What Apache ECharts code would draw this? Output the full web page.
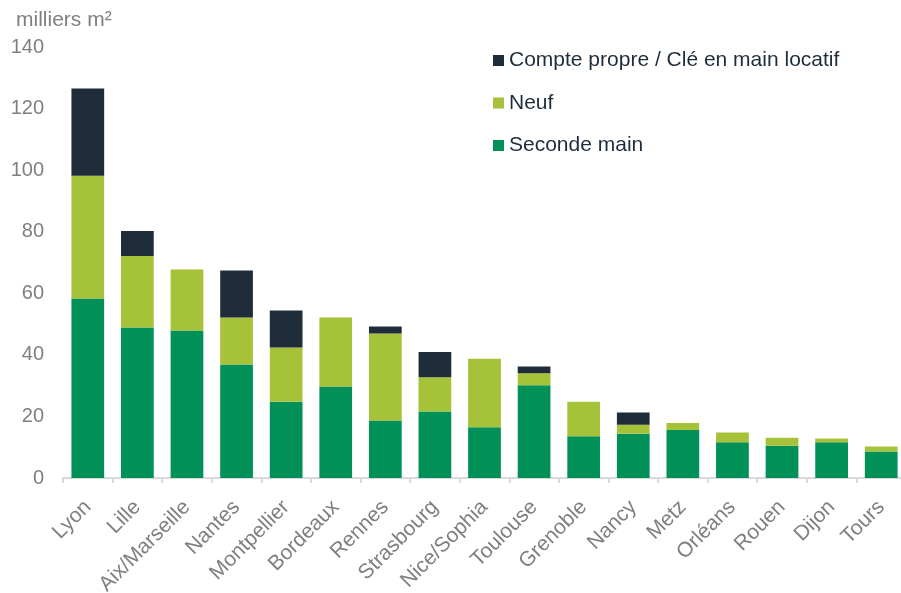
<!DOCTYPE html>
<html>
<head>
<meta charset="utf-8">
<script src="https://cdn.jsdelivr.net/npm/echarts@6/dist/echarts.min.js"></script>
<style>
  html, body { margin: 0; padding: 0; background: #fff; }
  #chart { width: 901px; height: 593px; }
</style>
</head>
<body>
<div id="chart"></div>
<script>
// villes (axe X)
const villes = ['Lyon', 'Lille', 'Aix/Marseille', 'Nantes', 'Montpellier', 'Bordeaux', 'Rennes',
  'Strasbourg', 'Nice/Sophia', 'Toulouse', 'Grenoble', 'Nancy', 'Metz', 'Orléans', 'Rouen', 'Dijon', 'Tours'];
// milliers m²
const secondeMain = [58.3, 48.9, 47.9, 36.9, 24.8, 29.7, 18.7, 21.6, 16.5, 30.1, 13.6, 14.4, 15.6, 11.6, 10.5, 11.6, 8.6];
const neuf = [39.9, 23.2, 19.8, 15.2, 17.6, 22.4, 28.2, 11.1, 22.2, 3.9, 11.2, 2.9, 2.3, 3.2, 2.6, 1.2, 1.6];
const comptePropre = [28.3, 8.1, 0, 15.3, 12.0, 0, 2.3, 8.2, 0, 2.2, 0, 4.0, 0, 0, 0, 0, 0];
const yTicks = [0, 20, 40, 60, 80, 100, 120, 140];

const chart = echarts.init(document.getElementById('chart'));

const font = 'Arial, "Liberation Sans", sans-serif';

function serie(name, data, color) {
  return {
    name: name,
    type: 'bar',
    stack: 'total',
    barWidth: '66%',
    data: data,
    itemStyle: { color: color },
    emphasis: { disabled: true },
  };
}

const option = {
  animation: false,
  title: {
    text: 'milliers m²',
    left: 11,
    top: 5,
    textStyle: { fontFamily: font, fontSize: 21, fontWeight: 'normal', color: '#7f7f7f' },
  },
  legend: {
    orient: 'vertical',
    left: 488,
    top: 45,
    itemWidth: 11,
    itemHeight: 11,
    itemGap: 21.5,
    icon: 'rect',
    data: ['Compte propre / Clé en main locatif', 'Neuf', 'Seconde main'],
    textStyle: { fontFamily: font, fontSize: 21, color: '#1f2d3b' },
  },
  grid: { left: 63, right: -5, top: 47, bottom: 115, outerBoundsMode: 'none' },
  xAxis: {
    type: 'category',
    data: villes,
    axisLine: { lineStyle: { color: '#d9d9d9', width: 2 } },
    axisTick: { show: true, length: 5, lineStyle: { color: '#d9d9d9', width: 2 } },
    axisLabel: {
      rotate: 45,
      margin: 26,
      interval: 0,
      fontFamily: font,
      fontSize: 21,
      color: '#7f7f7f',
    },
  },
  yAxis: {
    type: 'value',
    min: yTicks[0],
    max: yTicks[yTicks.length - 1],
    interval: 20,
    splitLine: { show: false },
    axisLine: { show: false },
    axisTick: { show: false },
    axisLabel: { margin: 19, fontFamily: font, fontSize: 20, color: '#7f7f7f' },
  },
  series: [
    serie('Seconde main', secondeMain, '#009058'),
    serie('Neuf', neuf, '#a6c239'),
    serie('Compte propre / Clé en main locatif', comptePropre, '#1f2d3b'),
  ],
};

chart.setOption(option);
</script>
</body>
</html>
